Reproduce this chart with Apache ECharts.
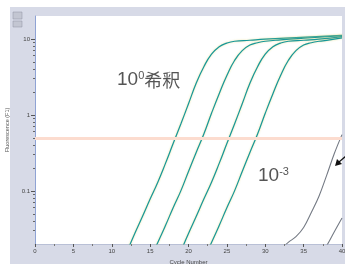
<!DOCTYPE html>
<html>
<head>
<meta charset="utf-8">
<script src="https://cdn.jsdelivr.net/npm/echarts@6/dist/echarts.min.js"></script>
<style>
  html, body { margin: 0; padding: 0; background: #fff; }
  #chart { width: 345px; height: 264px; }
</style>
</head>
<body>
<div id="chart"></div>
<script>
// amplification curves (cycle, fluorescence)
const g1Cycles = [12, 13, 14, 15, 16, 17, 18, 19, 20, 21, 22, 23, 24, 25, 26, 28, 30, 34, 40];
const g1Values = [0.016, 0.0275, 0.046, 0.078, 0.13, 0.23, 0.42, 0.76, 1.4, 2.6, 4.3, 6.3, 7.9, 8.8, 9.3, 9.6, 9.9, 10.4, 11.1];
const g2Cycles = [15, 16, 17, 18, 19, 20, 21, 22, 23, 24, 25, 26, 27, 28, 29, 30, 32, 35, 40];
const g2Values = [0.013, 0.021, 0.035, 0.06, 0.10, 0.18, 0.32, 0.56, 1.05, 1.9, 3.3, 5.2, 7.0, 8.3, 8.9, 9.3, 9.7, 10.2, 11.0];
const g3Cycles = [19, 20, 21, 22, 23, 24, 25, 26, 27, 28, 29, 30, 31, 32, 33, 35, 37, 40];
const g3Values = [0.016, 0.0275, 0.046, 0.078, 0.13, 0.23, 0.42, 0.76, 1.4, 2.6, 4.3, 6.3, 7.9, 8.8, 9.3, 9.6, 9.9, 10.7];
const g4Cycles = [22, 23, 24, 25, 26, 27, 28, 29, 30, 31, 32, 33, 34, 35, 36, 37, 38, 40];
const g4Values = [0.013, 0.021, 0.035, 0.06, 0.10, 0.18, 0.32, 0.56, 1.05, 1.9, 3.3, 5.2, 7.0, 8.3, 8.9, 9.3, 9.55, 10.3];
const grayACycles = [32, 33, 34, 35, 36, 37, 38, 39, 40];
const grayAValues = [0.017, 0.021, 0.025, 0.033, 0.052, 0.085, 0.16, 0.31, 0.55];
const grayBCycles = [37, 38, 39, 40];
const grayBValues = [0.014, 0.019, 0.029, 0.044];

const threshold = 0.5;
const xTicks = [0, 5, 10, 15, 20, 25, 30, 35, 40];
const yLabels = [0.1, 1, 10];
const yMinorTicks = [0.03, 0.04, 0.05, 0.06, 0.07, 0.08, 0.09, 0.2, 0.3, 0.4, 0.5, 0.6, 0.7, 0.8, 0.9, 2, 3, 4, 5, 6, 7, 8, 9];

function pairs(xs, ys) {
  return xs.map(function (x, i) { return [x, ys[i]]; });
}

var chart = echarts.init(document.getElementById('chart'), null, { width: 345, height: 264 });

const teal = '#16979a';
const halo = 'rgba(226,214,120,0.8)';
const gray = '#747a84';

function greenLine(xs, ys) {
  return {
    type: 'line',
    data: pairs(xs, ys),
    smooth: 0.5,
    showSymbol: false,
    clip: true,
    lineStyle: { color: teal, width: 1.2, shadowColor: halo, shadowBlur: 2 }
  };
}

function grayLine(xs, ys) {
  return {
    type: 'line',
    data: pairs(xs, ys),
    smooth: 0.4,
    showSymbol: false,
    clip: true,
    lineStyle: { color: gray, width: 1.1 }
  };
}

var series = [
  greenLine(g1Cycles, g1Values),
  greenLine(g2Cycles, g2Values),
  greenLine(g3Cycles, g3Values),
  greenLine(g4Cycles, g4Values),
  grayLine(grayACycles, grayAValues),
  grayLine(grayBCycles, grayBValues)
];
// threshold line
series[0].markLine = {
  silent: true,
  symbol: 'none',
  label: { show: false },
  lineStyle: { color: '#fcdccf', width: 3, type: 'solid' },
  data: [{ yAxis: threshold }]
};
series[0].z = 3;

option = {
  backgroundColor: '#fff',
  animation: false,
  grid: {
    left: 35, top: 16, right: 3, bottom: 20,
    outerBoundsMode: 'none',
    containLabel: false,
    show: true, backgroundColor: '#fff', borderWidth: 0
  },
  xAxis: {
    type: 'value',
    min: 0, max: 40, interval: 5,
    name: 'Cycle Number',
    nameLocation: 'middle',
    nameGap: 11,
    nameTextStyle: { fontSize: 6, color: '#444', fontFamily: 'Liberation Sans' },
    axisLine: { lineStyle: { color: '#b9c0d6', width: 1 } },
    axisTick: { show: true, length: 3, lineStyle: { color: '#555' } },
    minorTick: { show: true, splitNumber: 2, length: 2, lineStyle: { color: '#777' } },
    axisLabel: { fontSize: 6, color: '#444', margin: 4, fontFamily: 'Liberation Sans', customValues: xTicks },
    splitLine: { show: false }
  },
  yAxis: [{
    type: 'log',
    logBase: 10,
    min: 0.02, max: 20,
    name: 'Fluorescence (F1)',
    nameLocation: 'middle',
    nameGap: 17,
    nameTextStyle: { fontSize: 5.5, color: '#555', fontFamily: 'Liberation Sans' },
    axisLine: { show: true, lineStyle: { color: '#8fa3d4', width: 1 } },
    axisTick: { show: true, length: 4, customValues: yLabels, lineStyle: { color: '#555' } },
    axisLabel: { fontSize: 6, color: '#444', margin: 5, fontFamily: 'Liberation Sans', customValues: yLabels },
    splitLine: { show: false }
  }, {
    type: 'log',
    logBase: 10,
    min: 0.02, max: 20,
    position: 'left',
    axisLine: { show: false },
    axisTick: { show: true, length: 2, customValues: yMinorTicks, lineStyle: { color: '#666' } },
    axisLabel: { show: false },
    splitLine: { show: false }
  }],
  graphic: [
    { type: 'rect', z: -10, shape: { x: 10, y: 7, width: 335, height: 257 }, style: { fill: '#d7dae7' } },
    { type: 'rect', shape: { x: 13, y: 12, width: 9, height: 7 }, style: { fill: '#c3c6d2', stroke: '#8e92a0', lineWidth: 0.5 } },
    { type: 'rect', shape: { x: 13, y: 21, width: 9, height: 6 }, style: { fill: '#c3c6d2', stroke: '#8e92a0', lineWidth: 0.5 } },
    {
      type: 'text', z: 100,
      style: {
        x: 117, y: 80, verticalAlign: 'middle',
        text: '{a|10}{b|0}{c|希釈}',
        rich: {
          a: { fontSize: 19, fill: '#555', fontFamily: 'Liberation Sans', verticalAlign: 'bottom' },
          b: { fontSize: 11, fill: '#555', fontFamily: 'Liberation Sans', verticalAlign: 'top' },
          c: { fontSize: 18, fill: '#555', fontFamily: 'Noto Sans CJK JP', verticalAlign: 'bottom' }
        }
      }
    },
    {
      type: 'text', z: 100,
      style: {
        x: 258, y: 176, verticalAlign: 'middle',
        text: '{a|10}{b|-3}',
        rich: {
          a: { fontSize: 19, fill: '#555', fontFamily: 'Liberation Sans', verticalAlign: 'bottom' },
          b: { fontSize: 11, fill: '#555', fontFamily: 'Liberation Sans', verticalAlign: 'top' }
        }
      }
    },
    { type: 'line', z: 100, shape: { x1: 346, y1: 156, x2: 339, y2: 162 }, style: { stroke: '#111', lineWidth: 1.2 } },
    { type: 'polygon', z: 100, shape: { points: [[335, 166], [337, 159], [342, 164]] }, style: { fill: '#111' } }
  ],
  series: series
};

chart.setOption(option);

window.onresize = function () {
  chart.resize();
};
</script>
</body>
</html>
